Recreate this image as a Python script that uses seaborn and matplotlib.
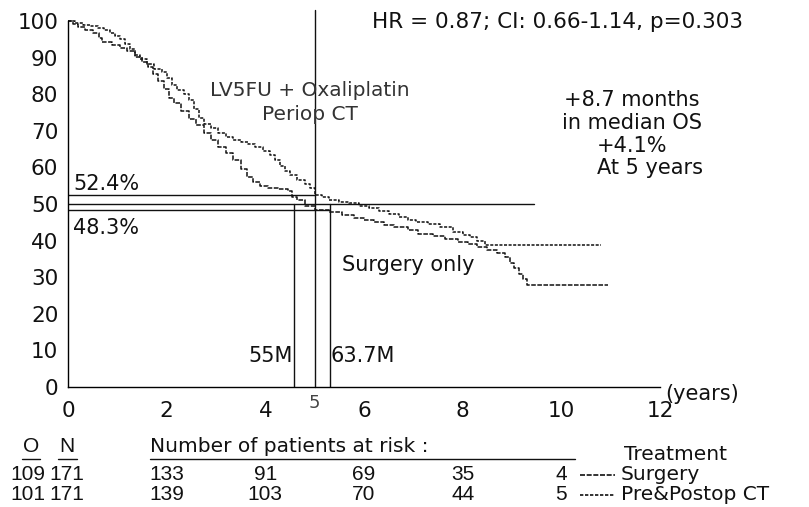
import numpy as np
import pandas as pd
import matplotlib
matplotlib.use("Agg")
import matplotlib.pyplot as plt
import seaborn as sns
from matplotlib import transforms

# ---------------- data ----------------
ct_years = [0, 0.15, 0.3, 0.45, 0.6, 0.72, 0.85, 0.95, 1.06, 1.15,
            1.25, 1.35, 1.45, 1.6, 1.75, 1.9, 2.0, 2.1, 2.2, 2.35,
            2.45, 2.55, 2.65, 2.75, 2.9, 3.05, 3.2, 3.35, 3.5, 3.65,
            3.8, 3.95, 4.1, 4.2, 4.3, 4.4, 4.5, 4.65, 4.8, 4.9,
            5.0, 5.15, 5.3, 5.5, 5.7, 5.9, 6.1, 6.3, 6.5, 6.7,
            6.9, 7.05, 7.3, 7.55, 7.8, 8.0, 8.15, 8.3, 8.45, 10.8]
ct_surv = [100, 99.5, 99, 98.5, 98, 97.5, 96.8, 96, 95, 93.8,
           92.3, 90.8, 89.5, 88.2, 87, 86, 84.5, 82.5, 81.2, 80,
           78.5, 76, 73.5, 71.8, 70.8, 69.5, 68.3, 67.5, 67, 66.5,
           65.5, 64.5, 63.3, 62, 60.5, 59, 57.8, 56.5, 55.5, 54.3,
           52.4, 51.8, 51.2, 50.6, 50.2, 49.4, 48.8, 48, 47.2, 46.4,
           45.6, 45.1, 44.5, 43.6, 42.4, 41.6, 41, 39.8, 38.8, 38.8]

sg_years = [0, 0.1, 0.2, 0.35, 0.5, 0.62, 0.68, 0.9, 1.05, 1.2,
            1.35, 1.5, 1.62, 1.72, 1.82, 1.95, 2.05, 2.15, 2.3, 2.45,
            2.6, 2.75, 2.9, 3.05, 3.2, 3.35, 3.5, 3.62, 3.75, 3.9,
            4.05, 4.25, 4.45, 4.55, 4.65, 4.8, 5.0, 5.3, 5.55, 5.8,
            6.0, 6.2, 6.4, 6.6, 6.9, 7.1, 7.4, 7.65, 7.9, 8.1,
            8.3, 8.5, 8.7, 8.85, 8.95, 9.05, 9.15, 9.22, 9.3, 10.95]
sg_surv = [100, 99.2, 98.4, 97.6, 96.6, 95.3, 94.3, 93.5, 92.7, 91.7,
           90.2, 88.8, 87.3, 85.5, 83.5, 81.5, 79, 77.5, 75.5, 73.3,
           71.5, 69.5, 67.5, 65.5, 63.8, 62, 59.5, 57.5, 56, 55,
           54.5, 54, 53.5, 52, 51, 49.5, 48.3, 47.8, 47.0, 46.2,
           45.6, 45, 44.3, 43.8, 42.9, 41.8, 41.2, 40.5, 39.7, 39,
           38.2, 37.4, 36.6, 35.5, 34, 32.5, 30.8, 29.5, 28, 28]

x_ticks = [0, 2, 4, 6, 8, 10, 12]
y_ticks = [0, 10, 20, 30, 40, 50, 60, 70, 80, 90, 100]

risk_times = [2, 4, 6, 8, 10]
risk_surgery = [133, 91, 69, 35, 4]
risk_ct = [139, 103, 70, 44, 5]
O_values = [109, 101]
N_values = [171, 171]
groups = ["Surgery", "Pre&Postop CT"]

median_level = 50
surv5_ct = 52.4
surv5_sg = 48.3
median_sg_years = 55 / 12
median_ct_years = 63.7 / 12
five_years = 5

# ---------------- figure ----------------
sns.set_style("white")
plt.rcParams["font.family"] = ["DejaVu Sans"]

W, H = 809, 507
fig = plt.figure(figsize=(W / 100, H / 100), dpi=100)
ax = fig.add_axes([68 / W, 1 - 387 / H, (660 - 68) / W, (387 - 21) / H])

df = pd.concat([
    pd.DataFrame({"years": sg_years, "survival": sg_surv, "Treatment": groups[0]}),
    pd.DataFrame({"years": ct_years, "survival": ct_surv, "Treatment": groups[1]}),
])
sns.lineplot(data=df, x="years", y="survival", hue="Treatment", style="Treatment",
             palette={groups[0]: "#111111", groups[1]: "#111111"},
             dashes={groups[0]: (3, 1), groups[1]: (2, 1)},
             drawstyle="steps-post", estimator=None, legend=False,
             linewidth=1.1, ax=ax)
for ln in ax.lines:
    ln.set_clip_on(False)

lc = "#111111"
lw = 1.0
# reference lines
ax.plot([0, 9.45], [median_level, median_level], color=lc, lw=lw)
ax.plot([0, five_years], [surv5_ct, surv5_ct], color=lc, lw=lw)
ax.plot([0, median_ct_years], [surv5_sg, surv5_sg], color=lc, lw=lw)
ax.plot([median_sg_years, median_sg_years], [0, median_level], color=lc, lw=lw)
ax.plot([median_ct_years, median_ct_years], [0, median_level], color=lc, lw=lw)
ax.plot([five_years, five_years], [0, 103], color=lc, lw=lw, clip_on=False)

ax.set_xlim(0, 12)
ax.set_ylim(0, 100)
ax.set_xticks(x_ticks)
ax.set_yticks(y_ticks)
ax.set_xlabel("")
ax.set_ylabel("")
ax.tick_params(axis="both", direction="out", length=5, width=1, color="black",
               labelsize=15.5, labelcolor="#111111")
ax.tick_params(axis="x", pad=5)
ax.tick_params(axis="y", pad=2)
sns.despine(ax=ax)
for s in ["left", "bottom"]:
    ax.spines[s].set_color("black")
    ax.spines[s].set_linewidth(1)

TC = "#111111"


def ptext(x, y, s, **kw):
    kw.setdefault("va", "center")
    kw.setdefault("color", TC)
    kw.setdefault("fontsize", 15)
    fig.text(x / W, 1 - y / H, s, **kw)


ptext(743, 22, "HR = 0.87; CI: 0.66-1.14, p=0.303", ha="right", fontsize=15.5)
ptext(310, 90, "LV5FU + Oxaliplatin", ha="center", fontsize=14.5, color="#333333")
ptext(310, 115, "Periop CT", ha="center", fontsize=14.5, color="#333333")
ptext(632, 100, "+8.7 months", ha="center")
ptext(632, 123, "in median OS", ha="center")
ptext(632, 146, "+4.1%", ha="center")
ptext(650, 168, "At 5 years", ha="center")
ptext(73, 184, "52.4%", ha="left")
ptext(73, 228, "48.3%", ha="left")
ptext(342, 265, "Surgery only", ha="left")
ptext(293, 356, "55M", ha="right")
ptext(331, 356, "63.7M", ha="left")
ptext(665, 394, "(years)", ha="left")

# "5" under the axis
bt = transforms.blended_transform_factory(ax.transData, fig.transFigure)
ax.text(five_years, 1 - 403 / H, "5", transform=bt, ha="center", va="center",
        fontsize=13, color="#444444")

# number at risk table
NF = ["Liberation Sans", "DejaVu Sans"]
fs_t = 15
fs_w = 14.5
ptext(31, 447, "O", ha="center", fontsize=fs_t, family=NF)
ptext(67, 447, "N", ha="center", fontsize=fs_t, family=NF)
ptext(150, 447, "Number of patients at risk :", ha="left", fontsize=fs_w)
for x0, x1 in [(22, 40), (58, 77), (150, 575)]:
    fig.add_artist(plt.Line2D([x0 / W, x1 / W], [1 - 459 / H, 1 - 459 / H],
                              color=TC, lw=1))
ptext(624, 455, "Treatment", ha="left", fontsize=fs_w)

row_y = [474, 494]
for yy, o, n, risks, g in zip(row_y, O_values, N_values, [risk_surgery, risk_ct], groups):
    ptext(28, yy, str(o), ha="center", fontsize=fs_t, family=NF)
    ptext(67, yy, str(n), ha="center", fontsize=fs_t, family=NF)
    for t, r in zip(risk_times, risks):
        ax.text(t, 1 - yy / H, str(r), transform=bt, ha="center", va="center",
                fontsize=fs_t, color=TC, family=NF)
    ptext(621, yy, g, ha="left", fontsize=fs_w)

fig.add_artist(plt.Line2D([580 / W, 615 / W], [1 - 475 / H] * 2, color=lc, lw=1.2,
                          linestyle=(0, (3, 1))))
fig.add_artist(plt.Line2D([580 / W, 615 / W], [1 - 495 / H] * 2, color=lc, lw=1.2,
                          linestyle=(0, (2, 1))))

fig.savefig("out.png", dpi=100)
